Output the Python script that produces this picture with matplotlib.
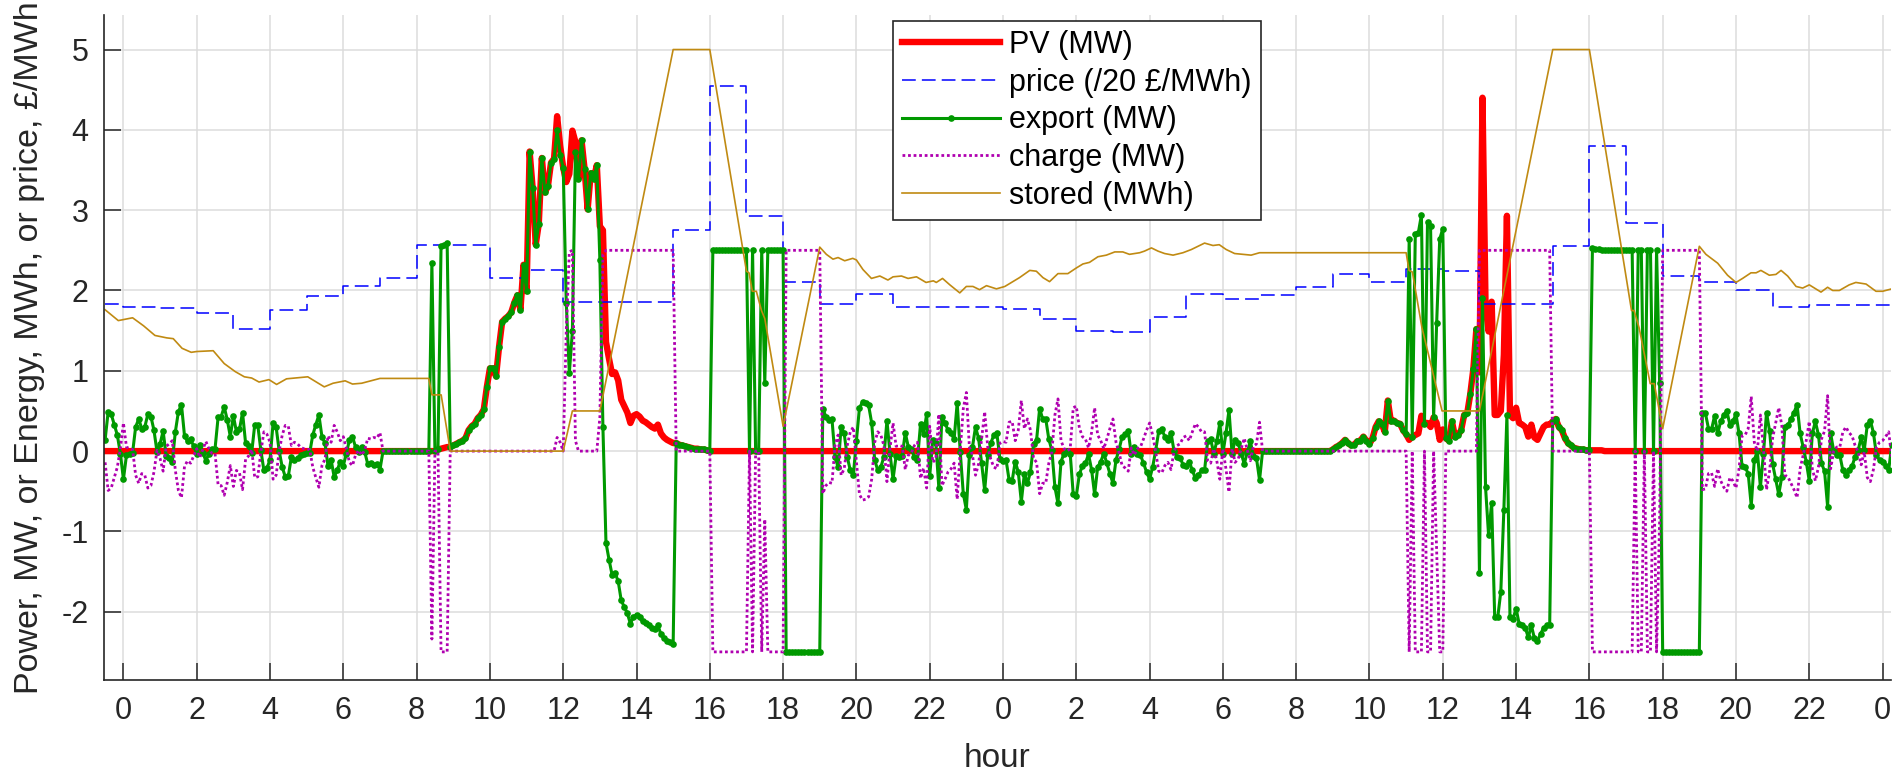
import numpy as np
import matplotlib
matplotlib.use("Agg")
import matplotlib.pyplot as plt

plt.rcParams['font.family'] = ['Liberation Sans', 'DejaVu Sans']
plt.rcParams['axes.unicode_minus'] = False

# 5-minute samples, starting at 23:30 the evening before day 1
t = np.arange(586) / 12.0 - 0.5

# PV output (MW), one row per hour
pv = [
    0, 0, 0, 0, 0, 0,                                                   # 23:30
    0, 0, 0, 0, 0, 0, 0, 0, 0, 0, 0, 0,                                 # 0
    0, 0, 0, 0, 0, 0, 0, 0, 0, 0, 0, 0,
    0, 0, 0, 0, 0, 0, 0, 0, 0, 0, 0, 0,
    0, 0, 0, 0, 0, 0, 0, 0, 0, 0, 0, 0,
    0, 0, 0, 0, 0, 0, 0, 0, 0, 0, 0, 0,                                 # 4
    0, 0, 0, 0, 0, 0, 0, 0, 0, 0, 0, 0,
    0, 0, 0, 0, 0, 0, 0, 0, 0, 0, 0, 0,
    0, 0, 0, 0, 0, 0, 0, 0, 0, 0, 0, 0,
    0, 0, 0, 0, 0, 0, 0, 0.02, 0.03, 0.04, 0.05, 0.05,                  # 8
    0.07, 0.09, 0.11, 0.13, 0.16, 0.26, 0.31, 0.34, 0.41, 0.45, 0.52, 0.80,
    1.03, 1.03, 0.93, 1.30, 1.61, 1.65, 1.68, 1.73, 1.85, 1.94, 1.76, 2.32,
    1.99, 3.73, 3.27, 2.57, 2.83, 3.65, 3.22, 3.30, 3.59, 3.64, 4.17, 3.80,
    3.53, 3.35, 3.45, 3.99, 3.85, 3.39, 3.87, 3.51, 3.01, 3.46, 3.39, 3.56,  # 12
    2.80, 2.75, 1.36, 1.15, 0.96, 0.98, 0.88, 0.64, 0.56, 0.48, 0.35, 0.44,
    0.46, 0.43, 0.38, 0.36, 0.33, 0.30, 0.28, 0.33, 0.22, 0.17, 0.14, 0.12,
    0.10, 0.10, 0.08, 0.07, 0.06, 0.05, 0.04, 0.03, 0.03, 0.02, 0.02, 0.01,
    0, 0, 0, 0, 0, 0, 0, 0, 0, 0, 0, 0,                                 # 16
    0, 0, 0, 0, 0, 0, 0, 0, 0, 0, 0, 0,
    0, 0, 0, 0, 0, 0, 0, 0, 0, 0, 0, 0,
    0, 0, 0, 0, 0, 0, 0, 0, 0, 0, 0, 0,
    0, 0, 0, 0, 0, 0, 0, 0, 0, 0, 0, 0,                                 # 20
    0, 0, 0, 0, 0, 0, 0, 0, 0, 0, 0, 0,
    0, 0, 0, 0, 0, 0, 0, 0, 0, 0, 0, 0,
    0, 0, 0, 0, 0, 0, 0, 0, 0, 0, 0, 0,
    0, 0, 0, 0, 0, 0, 0, 0, 0, 0, 0, 0,                                 # 24
    0, 0, 0, 0, 0, 0, 0, 0, 0, 0, 0, 0,
    0, 0, 0, 0, 0, 0, 0, 0, 0, 0, 0, 0,
    0, 0, 0, 0, 0, 0, 0, 0, 0, 0, 0, 0,
    0, 0, 0, 0, 0, 0, 0, 0, 0, 0, 0, 0,                                 # 28
    0, 0, 0, 0, 0, 0, 0, 0, 0, 0, 0, 0,
    0, 0, 0, 0, 0, 0, 0, 0, 0, 0, 0, 0,
    0, 0, 0, 0, 0, 0, 0, 0, 0, 0, 0, 0,
    0, 0, 0, 0, 0, 0, 0, 0, 0, 0, 0, 0,                                 # 32
    0.02, 0.05, 0.07, 0.10, 0.14, 0.10, 0.07, 0.08, 0.12, 0.13, 0.18, 0.13,
    0.09, 0.16, 0.30, 0.37, 0.34, 0.24, 0.63, 0.37, 0.38, 0.35, 0.34, 0.26,
    0.21, 0.14, 0.18, 0.20, 0.22, 0.44, 0.34, 0.35, 0.30, 0.42, 0.35, 0.14,
    0.27, 0.16, 0.13, 0.37, 0.18, 0.20, 0.26, 0.45, 0.47, 0.71, 1.02, 1.52,  # 36
    0.98, 4.40, 1.81, 1.49, 1.86, 0.45, 0.45, 0.50, 1.20, 2.93, 0.45, 0.41,
    0.54, 0.35, 0.33, 0.30, 0.18, 0.33, 0.17, 0.14, 0.22, 0.30, 0.33, 0.33,
    0.37, 0.40, 0.30, 0.26, 0.16, 0.10, 0.07, 0.04, 0.03, 0.02, 0.02, 0.01,
    0.01, 0.01, 0.01, 0.01, 0.01, 0, 0, 0, 0, 0, 0, 0,                  # 40
    0, 0, 0, 0, 0, 0, 0, 0, 0, 0, 0, 0,
    0, 0, 0, 0, 0, 0, 0, 0, 0, 0, 0, 0,
    0, 0, 0, 0, 0, 0, 0, 0, 0, 0, 0, 0,
    0, 0, 0, 0, 0, 0, 0, 0, 0, 0, 0, 0,                                 # 44
    0, 0, 0, 0, 0, 0, 0, 0, 0, 0, 0, 0,
    0, 0, 0, 0, 0, 0, 0, 0, 0, 0, 0, 0,
    0, 0, 0, 0, 0, 0, 0, 0, 0, 0, 0, 0,
    0, 0, 0, 0,                                                         # 48
]

# grid export (MW)
export = [
    0.14, 0.49, 0.46, 0.33, 0.20, -0.03,
    -0.35, -0.05, -0.03, -0.02, 0.30, 0.40, 0.28, 0.30, 0.46, 0.43, 0.26, -0.01,   # 0
    0.09, 0.25, -0.06, -0.09, -0.13, 0.24, 0.49, 0.58, 0.19, 0.12, 0.15, 0.06,
    -0.03, 0.08, -0.02, -0.12, -0.03, 0.03, 0.03, 0.42, 0.43, 0.55, 0.39, 0.18,
    0.44, 0.24, 0.27, 0.48, 0.10, 0.06, -0.02, 0.33, 0.32, 0.01, -0.24, -0.21,
    -0.11, 0.35, 0.30, 0.00, -0.20, -0.32, -0.31, -0.07, -0.11, -0.09, -0.05, -0.03,  # 4
    -0.02, -0.02, 0.20, 0.33, 0.45, 0.18, 0.10, -0.19, -0.11, -0.32, -0.24, -0.13,
    -0.18, -0.03, 0.14, 0.18, 0.05, -0.01, 0.05, -0.01, -0.16, -0.15, -0.17, -0.16,
    -0.23, 0, 0, 0, 0, 0, 0, 0, 0, 0, 0, 0,
    0, 0, 0, 0, 0, 2.34, 0.00, 0.02, 2.55, 2.57, 2.59, 0.05,                      # 8
    0.07, 0.09, 0.11, 0.13, 0.16, 0.26, 0.31, 0.34, 0.41, 0.45, 0.52, 0.80,
    1.03, 1.03, 0.93, 1.30, 1.61, 1.65, 1.68, 1.73, 1.85, 1.94, 1.76, 2.32,
    1.99, 3.73, 3.27, 2.57, 2.83, 3.65, 3.22, 3.30, 3.59, 3.64, 4.00, 3.69,
    3.53, 1.85, 0.97, 1.49, 3.72, 3.39, 3.87, 3.51, 3.01, 3.46, 3.39, 3.56,       # 12
    2.38, 0.30, -1.14, -1.35, -1.54, -1.52, -1.62, -1.86, -1.94, -2.02, -2.15, -2.06,
    -2.04, -2.07, -2.12, -2.14, -2.17, -2.20, -2.22, -2.17, -2.28, -2.33, -2.36, -2.38,
    -2.40, 0.10, 0.08, 0.07, 0.06, 0.05, 0.04, 0.03, 0.03, 0.02, 0.02, 0.01,
    0.00, 2.5, 2.5, 2.5, 2.5, 2.5, 2.5, 2.5, 2.5, 2.5, 2.5, 2.5,                  # 16
    2.5, 0.0, 2.5, 0.0, 0.0, 2.5, 0.85, 2.5, 2.5, 2.5, 2.5, 2.5,
    2.5, -2.5, -2.5, -2.5, -2.5, -2.5, -2.5, -2.5, -2.5, -2.5, -2.5, -2.5,
    -2.5, 0.53, 0.43, 0.39, 0.40, -0.07, -0.20, 0.30, 0.22, -0.07, -0.24, -0.30,
    0.13, 0.54, 0.61, 0.60, 0.57, 0.35, -0.11, -0.24, -0.20, -0.07, 0.38, -0.03,  # 20
    -0.35, -0.06, -0.07, -0.06, 0.23, 0.05, 0.02, -0.07, -0.11, 0.34, 0.21, 0.46,
    -0.31, 0.14, 0.10, -0.46, 0.43, 0.35, 0.26, 0.22, 0.15, 0.60, -0.01, -0.53,
    -0.73, -0.05, 0.05, 0.30, 0.16, -0.15, -0.49, -0.05, 0.10, 0.20, 0.22, -0.10,
    -0.12, -0.11, -0.36, -0.37, -0.13, -0.26, -0.63, -0.28, -0.40, -0.26, 0.09, 0.14,  # 24
    0.53, 0.40, 0.40, 0.15, 0.01, -0.45, -0.65, -0.13, -0.03, 0.00, -0.03, -0.54,
    -0.56, -0.29, -0.18, -0.15, -0.04, -0.23, -0.54, -0.20, -0.13, -0.03, -0.15, -0.28,
    -0.40, -0.11, 0.02, 0.18, 0.21, 0.25, -0.04, 0.05, -0.03, -0.05, -0.15, -0.26,
    -0.35, -0.20, 0.01, 0.25, 0.27, 0.18, 0.14, 0.23, 0.00, -0.07, -0.09, -0.17,  # 28
    -0.19, -0.13, -0.24, -0.34, -0.30, -0.24, -0.24, 0.12, 0.15, -0.03, 0.12, 0.35,
    -0.03, 0.22, 0.51, -0.03, 0.14, 0.10, -0.03, -0.16, -0.01, 0.12, -0.06, -0.09,
    -0.36, 0, 0, 0, 0, 0, 0, 0, 0, 0, 0, 0,
    0, 0, 0, 0, 0, 0, 0, 0, 0, 0, 0, 0,                                           # 32
    0.02, 0.05, 0.07, 0.10, 0.14, 0.10, 0.07, 0.08, 0.12, 0.13, 0.18, 0.13,
    0.09, 0.16, 0.30, 0.37, 0.34, 0.24, 0.63, 0.37, 0.38, 0.35, 0.34, 0.26,
    0.21, 2.64, 0.18, 2.70, 2.72, 2.94, 0.34, 2.85, 2.80, 0.42, 1.60, 2.64,
    2.77, 0.16, 0.13, 0.37, 0.18, 0.20, 0.26, 0.45, 0.47, 0.71, 1.02, 1.52,       # 36
    -1.52, 1.91, -0.45, -1.05, -0.64, -2.07, -2.07, -1.75, -0.73, 0.45, -2.07, -2.09,
    -1.96, -2.15, -2.17, -2.20, -2.32, -2.17, -2.33, -2.36, -2.28, -2.20, -2.17, -2.17,
    0.37, 0.40, 0.30, 0.26, 0.16, 0.10, 0.07, 0.04, 0.03, 0.02, 0.02, 0.01,
    0.01, 2.53, 2.52, 2.52, 2.51, 2.51, 2.51, 2.50, 2.50, 2.50, 2.50, 2.50,       # 40
    2.50, 2.50, 2.50, 0.0, 2.5, 2.5, 0.0, 2.5, 2.5, 0.0, 2.5, 0.85,
    -2.5, -2.5, -2.5, -2.5, -2.5, -2.5, -2.5, -2.5, -2.5, -2.5, -2.5, -2.5,
    -2.5, 0.48, 0.47, 0.28, 0.27, 0.44, 0.22, 0.37, 0.45, 0.50, 0.33, 0.37,
    0.46, 0.22, -0.19, -0.20, -0.28, -0.68, -0.11, 0.00, -0.45, -0.03, 0.48, 0.25,  # 44
    -0.16, -0.35, -0.54, -0.32, 0.30, 0.32, 0.40, 0.48, 0.58, 0.22, 0.05, -0.13,
    -0.37, 0.22, 0.37, 0.20, -0.15, -0.25, -0.69, 0.22, 0.00, -0.05, -0.05, -0.24,
    -0.30, -0.23, -0.19, -0.07, 0.01, 0.17, 0.01, 0.33, 0.38, 0.23, -0.05, -0.11,
    -0.13, -0.18, -0.24, 0.08,                                                    # 48
]

# battery charge (MW), negative = discharge
charge = [
    -0.14, -0.49, -0.46, -0.33, -0.20, 0.03,
    0.35, 0.05, 0.03, 0.02, -0.30, -0.40, -0.28, -0.30, -0.46, -0.43, -0.26, 0.01,  # 0
    -0.09, -0.25, 0.06, 0.09, 0.13, -0.24, -0.49, -0.58, -0.19, -0.12, -0.15, -0.06,
    0.03, -0.08, 0.02, 0.12, 0.03, -0.03, -0.03, -0.42, -0.43, -0.55, -0.39, -0.18,
    -0.44, -0.24, -0.27, -0.48, -0.10, -0.06, 0.02, -0.33, -0.32, -0.01, 0.24, 0.21,
    0.11, -0.35, -0.30, 0.00, 0.20, 0.32, 0.31, 0.07, 0.11, 0.09, 0.05, 0.03,     # 4
    0.02, 0.02, -0.20, -0.33, -0.45, -0.18, -0.10, 0.19, 0.11, 0.32, 0.24, 0.13,
    0.18, 0.03, -0.14, -0.18, -0.05, 0.01, -0.05, 0.01, 0.16, 0.15, 0.17, 0.16,
    0.23, 0, 0, 0, 0, 0, 0, 0, 0, 0, 0, 0,
    0, 0, 0, 0, 0, -2.34, 0, 0, -2.5, -2.5, -2.5, 0,                              # 8
    0, 0, 0, 0, 0, 0, 0, 0, 0, 0, 0, 0,
    0, 0, 0, 0, 0, 0, 0, 0, 0, 0, 0, 0,
    0, 0, 0, 0, 0, 0, 0, 0, 0, 0, 0.17, 0.11,
    0, 1.50, 2.48, 2.50, 0.13, 0, 0, 0, 0, 0, 0, 0,                               # 12
    0.42, 2.45, 2.5, 2.5, 2.5, 2.5, 2.5, 2.5, 2.5, 2.5, 2.5, 2.5,
    2.5, 2.5, 2.5, 2.5, 2.5, 2.5, 2.5, 2.5, 2.5, 2.5, 2.5, 2.5,
    2.5, 0, 0, 0, 0, 0, 0, 0, 0, 0, 0, 0,
    0, -2.5, -2.5, -2.5, -2.5, -2.5, -2.5, -2.5, -2.5, -2.5, -2.5, -2.5,          # 16
    -2.5, 0, -2.5, 0, 0, -2.5, -0.85, -2.5, -2.5, -2.5, -2.5, -2.5,
    -2.5, 2.5, 2.5, 2.5, 2.5, 2.5, 2.5, 2.5, 2.5, 2.5, 2.5, 2.5,
    2.5, -0.53, -0.43, -0.39, -0.40, 0.07, 0.20, -0.30, -0.22, 0.07, 0.24, 0.30,
    -0.13, -0.54, -0.61, -0.60, -0.57, -0.35, 0.11, 0.24, 0.20, 0.07, -0.38, 0.03,  # 20
    0.35, 0.06, 0.07, 0.06, -0.23, -0.05, -0.02, 0.07, 0.11, -0.34, -0.21, -0.46,
    0.31, -0.14, -0.10, 0.46, -0.43, -0.35, -0.26, -0.22, -0.15, -0.60, 0.01, 0.53,
    0.73, 0.05, -0.05, -0.30, -0.16, 0.15, 0.49, 0.05, -0.10, -0.20, -0.22, 0.10,
    0.12, 0.11, 0.36, 0.37, 0.13, 0.26, 0.63, 0.28, 0.40, 0.26, -0.09, -0.14,     # 24
    -0.53, -0.40, -0.40, -0.15, -0.01, 0.45, 0.65, 0.13, 0.03, 0.00, 0.03, 0.54,
    0.56, 0.29, 0.18, 0.15, 0.04, 0.23, 0.54, 0.20, 0.13, 0.03, 0.15, 0.28,
    0.40, 0.11, -0.02, -0.18, -0.21, -0.25, 0.04, -0.05, 0.03, 0.05, 0.15, 0.26,
    0.35, 0.20, -0.01, -0.25, -0.27, -0.18, -0.14, -0.23, 0.00, 0.07, 0.09, 0.17,  # 28
    0.19, 0.13, 0.24, 0.34, 0.30, 0.24, 0.24, -0.12, -0.15, 0.03, -0.12, -0.35,
    0.03, -0.22, -0.51, 0.03, -0.14, -0.10, 0.03, 0.16, 0.01, -0.12, 0.06, 0.09,
    0.36, 0, 0, 0, 0, 0, 0, 0, 0, 0, 0, 0,
    0, 0, 0, 0, 0, 0, 0, 0, 0, 0, 0, 0,                                           # 32
    0, 0, 0, 0, 0, 0, 0, 0, 0, 0, 0, 0,
    0, 0, 0, 0, 0, 0, 0, 0, 0, 0, 0, 0,
    0, -2.5, 0, -2.5, -2.5, -2.5, 0, -2.5, -2.5, 0, -1.25, -2.5,
    -2.5, 0, 0, 0, 0, 0, 0, 0, 0, 0, 0, 0,                                        # 36
    2.5, 2.5, 2.5, 2.5, 2.5, 2.5, 2.5, 2.5, 2.5, 2.5, 2.5, 2.5,
    2.5, 2.5, 2.5, 2.5, 2.5, 2.5, 2.5, 2.5, 2.5, 2.5, 2.5, 2.5,
    0, 0, 0, 0, 0, 0, 0, 0, 0, 0, 0, 0,
    0, -2.5, -2.5, -2.5, -2.5, -2.5, -2.5, -2.5, -2.5, -2.5, -2.5, -2.5,          # 40
    -2.5, -2.5, -2.5, 0, -2.5, -2.5, 0, -2.5, -2.5, 0, -2.5, -0.85,
    2.5, 2.5, 2.5, 2.5, 2.5, 2.5, 2.5, 2.5, 2.5, 2.5, 2.5, 2.5,
    2.5, -0.48, -0.47, -0.28, -0.27, -0.44, -0.22, -0.37, -0.45, -0.50, -0.33, -0.37,
    -0.46, -0.22, 0.19, 0.20, 0.28, 0.68, 0.11, 0.00, 0.45, 0.03, -0.48, -0.25,   # 44
    0.16, 0.35, 0.54, 0.32, -0.30, -0.32, -0.40, -0.48, -0.58, -0.22, -0.05, 0.13,
    0.37, -0.22, -0.37, -0.20, 0.15, 0.25, 0.69, -0.22, 0.00, 0.05, 0.05, 0.24,
    0.30, 0.23, 0.19, 0.07, -0.01, -0.17, -0.01, -0.33, -0.38, -0.23, 0.05, 0.11,
    0.13, 0.18, 0.24, -0.08,                                                      # 48
]

# price, /20 GBP/MWh, from each start hour to the next
price_start = [-0.5] + list(range(0, 49))
price = [1.83,
         1.80, 1.78, 1.72, 1.52, 1.76, 1.93, 2.06, 2.16, 2.57, 2.57, 2.15, 2.25,
         1.86, 1.86, 1.86, 2.75, 4.54, 2.93, 2.11, 1.83, 1.95, 1.80, 1.80, 1.80,
         1.77, 1.65, 1.50, 1.48, 1.67, 1.95, 1.89, 1.94, 2.04, 2.20, 2.11, 2.27,
         2.24, 1.83, 1.83, 2.55, 3.80, 2.84, 2.18, 2.11, 2.01, 1.80, 1.82, 1.82,
         1.82]

# stored energy (MWh): (hour, value)
stored = [
    (-0.5, 1.76), (-0.14, 1.625), (0.25, 1.66), (0.55, 1.56), (0.86, 1.44),
    (1.18, 1.41), (1.36, 1.40), (1.6, 1.28), (1.85, 1.23), (2.0, 1.24),
    (2.45, 1.25), (2.75, 1.09), (3.05, 0.99), (3.3, 0.925), (3.5, 0.91),
    (3.7, 0.86), (3.97, 0.89), (4.18, 0.83), (4.45, 0.90), (5.03, 0.925),
    (5.48, 0.80), (5.72, 0.845), (6.05, 0.875), (6.25, 0.835), (6.5, 0.845),
    (7.0, 0.905), (8.33, 0.905), (8.42, 0.70), (8.67, 0.70), (8.92, 0.0),
    (12.0, 0.0), (12.25, 0.5), (13.0, 0.5), (15.0, 5.0), (16.0, 5.0),
    (17.0, 2.24), (17.07, 2.22), (17.16, 1.99), (17.27, 1.99), (17.41, 1.75),
    (17.5, 1.65), (18.0, 0.31), (19.0, 2.54), (19.18, 2.45), (19.36, 2.39),
    (19.5, 2.41), (19.68, 2.37), (19.9, 2.40), (20.0, 2.38), (20.18, 2.26),
    (20.41, 2.15), (20.64, 2.18), (20.86, 2.13), (21.0, 2.17), (21.23, 2.18),
    (21.41, 2.15), (21.64, 2.17), (21.9, 2.10), (22.1, 2.12), (22.18, 2.10),
    (22.35, 2.15), (22.55, 2.07), (22.82, 1.97), (23.0, 2.05), (23.18, 2.05),
    (23.36, 2.01), (23.55, 2.06), (23.82, 2.02), (24.05, 2.05), (24.27, 2.11),
    (24.45, 2.16), (24.73, 2.25), (24.91, 2.24), (25.09, 2.16), (25.27, 2.11),
    (25.5, 2.21), (25.77, 2.21), (26.0, 2.28), (26.18, 2.33), (26.36, 2.35),
    (26.59, 2.42), (26.82, 2.44), (27.05, 2.48), (27.27, 2.48), (27.45, 2.45),
    (27.73, 2.47), (27.86, 2.49), (28.05, 2.53), (28.23, 2.49), (28.41, 2.46),
    (28.64, 2.44), (28.91, 2.47), (29.14, 2.51), (29.32, 2.55), (29.5, 2.59),
    (29.73, 2.56), (29.9, 2.57), (30.09, 2.51), (30.32, 2.46), (30.55, 2.45),
    (30.77, 2.44), (31.0, 2.47), (35.0, 2.47), (35.08, 2.25), (35.17, 2.23),
    (35.43, 1.54), (35.68, 1.07), (35.98, 0.50), (37.0, 0.50), (39.0, 5.0),
    (40.0, 5.0), (41.15, 1.75), (41.22, 1.75), (41.36, 1.53), (41.66, 0.84),
    (41.77, 0.84), (42.0, 0.28), (43.0, 2.55), (43.18, 2.45), (43.5, 2.34),
    (43.77, 2.19), (44.0, 2.10), (44.18, 2.15), (44.41, 2.22), (44.55, 2.22),
    (44.68, 2.25), (44.91, 2.19), (45.09, 2.20), (45.23, 2.25), (45.41, 2.18),
    (45.64, 2.05), (45.82, 2.03), (46.0, 2.07), (46.18, 2.02), (46.32, 1.98),
    (46.5, 2.04), (46.64, 2.00), (46.82, 2.00), (47.09, 2.07), (47.27, 2.10),
    (47.55, 2.08), (47.82, 1.99), (48.0, 1.99), (48.25, 2.02),
]
stored_t, stored_v = zip(*stored)

dark = '#262626'

fig = plt.figure(figsize=(18.95, 7.72), dpi=100)
ax = fig.add_axes([104 / 1895, 92 / 772, 1787 / 1895, 665 / 772])

ax.plot(t, pv, color='#ff0000', lw=4.6, solid_joinstyle='round', label='PV (MW)')
ax.plot(price_start + [48.5], price + [price[-1]], drawstyle='steps-post',
        color='#0000ff', lw=1.1, dashes=(9, 4), label='price (/20 £/MWh)')
ax.plot(t, export, color='#009900', lw=2.2, marker='o', ms=4.8, mew=0,
        label='export (MW)')
ax.plot(t, charge, color='#b000b0', lw=2.0, linestyle=(0, (1, 1.0)),
        label='charge (MW)')
ax.plot(stored_t, stored_v, color='#c08a12', lw=1.2, label='stored (MWh)')

ax.set_xlim(-0.53, 48.23)
ax.set_ylim(-2.85, 5.43)
xt = list(range(0, 49, 2))
ax.set_xticks(xt)
ax.set_xticklabels([str(h % 24) for h in xt])
ax.set_yticks(range(-2, 6))

ax.grid(True, color='#dcdcdc', lw=1.1)
ax.set_axisbelow(True)
for s in ['top', 'right']:
    ax.spines[s].set_visible(False)
for s in ['left', 'bottom']:
    ax.spines[s].set_color(dark)
    ax.spines[s].set_linewidth(1.2)
ax.tick_params(direction='in', length=12.5, width=1.1, colors=dark, labelsize=22)
ax.tick_params(axis='x', pad=11.5)
ax.tick_params(axis='y', pad=11)

ax.set_xlabel('hour', fontsize=24, color=dark)
ax.set_ylabel('Power, MW, or Energy, MWh, or price, £/MWh', fontsize=24.5, color=dark)
ax.xaxis.set_label_coords(0.5, -0.094)
ax.yaxis.set_label_coords(-0.033, 0.5)

leg = ax.legend(loc='upper left', bbox_to_anchor=(0.4415, 0.991), fontsize=22,
                fancybox=False, framealpha=1, edgecolor=dark, borderpad=0.3,
                labelspacing=0.25, handlelength=3.2, handletextpad=0.3,
                borderaxespad=0, numpoints=1)
leg.get_frame().set_linewidth(1.2)

fig.savefig('out.png', dpi=100)
